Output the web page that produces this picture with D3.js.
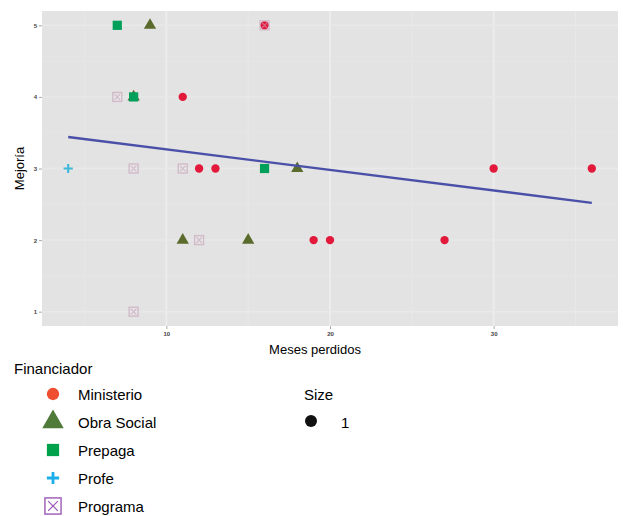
<!DOCTYPE html>
<html>
<head>
<meta charset="utf-8">
<script src="https://cdn.jsdelivr.net/npm/d3@7"></script>
<style>
  body { margin: 0; background: #fff; }
  text { font-family: "Liberation Sans", Arial, sans-serif; }
</style>
</head>
<body>
<svg id="chart" width="623" height="516"></svg>
<script>
const financiadores = ['Ministerio', 'Obra Social', 'Prepaga', 'Profe', 'Programa'];
const legendColors = ['#f04e30', '#4f7a3a', '#00a14b', '#1aaeea', '#9b59b6'];
const plotColors = ['#e3193c', '#5b6b2c', '#00a05a', '#3fb8d8', '#c9a0b8'];

// one entry per point
const meses   = [16, 11, 12, 13, 30, 36, 19, 20, 27, 9, 18, 11, 15, 8, 7, 8, 16, 4, 7, 8, 11, 12, 8, 16];
const mejoria = [5, 4, 3, 3, 3, 3, 2, 2, 2, 5, 3, 2, 2, 4, 5, 4, 3, 3, 4, 3, 3, 2, 1, 5];
const fuente  = ['Ministerio', 'Ministerio', 'Ministerio', 'Ministerio', 'Ministerio', 'Ministerio',
  'Ministerio', 'Ministerio', 'Ministerio', 'Obra Social', 'Obra Social', 'Obra Social', 'Obra Social',
  'Obra Social', 'Prepaga', 'Prepaga', 'Prepaga', 'Profe', 'Programa', 'Programa', 'Programa',
  'Programa', 'Programa', 'Programa'];

const trendX = [4, 36];
const trendY = [3.44, 2.52];

const xTicks = [10, 20, 30];
const yTicks = [1, 2, 3, 4, 5];

const svg = d3.select('#chart');
const panel = { left: 42, right: 618, top: 11, bottom: 326 };

const x = d3.scaleLinear().domain([2.4, 37.6]).range([panel.left, panel.right]);
const y = d3.scaleLinear().domain([0.8, 5.2]).range([panel.bottom, panel.top]);
const color = d3.scaleOrdinal().domain(financiadores).range(plotColors);
const legendColor = d3.scaleOrdinal().domain(financiadores).range(legendColors);

// backdrop
svg.append('rect')
  .attr('x', panel.left)
  .attr('y', panel.top)
  .attr('width', panel.right - panel.left)
  .attr('height', panel.bottom - panel.top)
  .attr('fill', '#e3e3e3');

// grid, kept faint like the scanned original
const grid = svg.append('g');
const minorX = [5, 15, 25, 35];
const minorY = [1.5, 2.5, 3.5, 4.5];
grid.selectAll('.mx').data(minorX).enter().append('line')
  .attr('x1', d => x(d)).attr('x2', d => x(d))
  .attr('y1', panel.top).attr('y2', panel.bottom)
  .attr('stroke', '#e8e8e8').attr('stroke-width', 1);
grid.selectAll('.my').data(minorY).enter().append('line')
  .attr('y1', d => y(d)).attr('y2', d => y(d))
  .attr('x1', panel.left).attr('x2', panel.right)
  .attr('stroke', '#e6e6e6').attr('stroke-width', 1);
grid.selectAll('.gx').data(xTicks).enter().append('line')
  .attr('x1', d => x(d)).attr('x2', d => x(d))
  .attr('y1', panel.top).attr('y2', panel.bottom)
  .attr('stroke', '#ececec').attr('stroke-width', 2);
grid.selectAll('.gy').data(yTicks).enter().append('line')
  .attr('y1', d => y(d)).attr('y2', d => y(d))
  .attr('x1', panel.left).attr('x2', panel.right)
  .attr('stroke', '#e9e9e9').attr('stroke-width', 1.5);

// axes
const xAxis = d3.axisBottom(x).tickValues(xTicks).tickFormat(d3.format('d')).tickSize(3).tickPadding(3);
const xAxisEl = svg.append('g')
  .attr('transform', `translate(0,${panel.bottom})`)
  .call(xAxis);
xAxisEl.select('.domain').remove();
xAxisEl.selectAll('line').attr('stroke', '#aaa');
xAxisEl.selectAll('text').style('font-size', '6px').style('fill', '#444').style('font-weight', 'bold');

const yAxis = d3.axisLeft(y).tickValues(yTicks).tickFormat(d3.format('d')).tickSize(3).tickPadding(2);
const yAxisEl = svg.append('g')
  .attr('transform', `translate(${panel.left},0)`)
  .call(yAxis);
yAxisEl.select('.domain').remove();
yAxisEl.selectAll('line').attr('stroke', '#aaa');
yAxisEl.selectAll('text').style('font-size', '6px').style('fill', '#444').style('font-weight', 'bold');

svg.append('text')
  .attr('x', (panel.left + panel.right) / 2 - 15)
  .attr('y', 354)
  .attr('text-anchor', 'middle')
  .style('font-size', '13px')
  .text('Meses perdidos');

svg.append('text')
  .attr('transform', `translate(24,${(panel.top + panel.bottom) / 2}) rotate(-90)`)
  .attr('text-anchor', 'middle')
  .style('font-size', '13px')
  .text('Mejoría');

// shapes
const shapeOf = {
  'Ministerio': d3.symbolCircle,
  'Obra Social': d3.symbolTriangle,
  'Prepaga': d3.symbolSquare,
  'Profe': d3.symbolCross,
  'Programa': d3.symbolSquare,
};

function drawMark(g, name, size, fill) {
  if (name === 'Programa') {
    const h = Math.sqrt(size) / 2;
    g.append('rect')
      .attr('x', -h).attr('y', -h).attr('width', 2 * h).attr('height', 2 * h)
      .attr('fill', 'none').attr('stroke', fill).attr('stroke-width', 1.4);
    g.append('path')
      .attr('d', `M${-h * 0.6},${-h * 0.6}L${h * 0.6},${h * 0.6}M${h * 0.6},${-h * 0.6}L${-h * 0.6},${h * 0.6}`)
      .attr('stroke', fill).attr('stroke-width', 1.2);
  } else if (name === 'Profe') {
    const h = Math.sqrt(size) / 2;
    g.append('path')
      .attr('d', `M${-h},0H${h}M0,${-h}V${h}`)
      .attr('stroke', fill).attr('stroke-width', Math.max(1.5, h / 2.2));
  } else {
    g.append('path')
      .attr('d', d3.symbol().type(shapeOf[name]).size(size)())
      .attr('fill', fill);
  }
}

const pts = meses.map((m, i) => ({ x: m, y: mejoria[i], f: fuente[i] }));
const order = ['Obra Social', 'Ministerio', 'Prepaga', 'Profe', 'Programa'];
pts.sort((a, b) => order.indexOf(a.f) - order.indexOf(b.f));

const marks = svg.append('g').selectAll('g')
  .data(pts)
  .enter()
  .append('g')
  .attr('transform', d => `translate(${x(d.x)},${y(d.y)})`)
  .attr('opacity', d => d.f === 'Programa' ? 0.6 : 1);
marks.each(function (d) {
  const size = d.f === 'Obra Social' ? 65 : d.f === 'Ministerio' ? 55 : d.f === 'Programa' ? 80 : 85;
  drawMark(d3.select(this), d.f, size, color(d.f));
});

// trend line
svg.append('line')
  .attr('x1', x(trendX[0])).attr('y1', y(trendY[0]))
  .attr('x2', x(trendX[1])).attr('y2', y(trendY[1]))
  .attr('stroke', '#4a4fa8')
  .attr('stroke-width', 2.4);

// legend
const legend = svg.append('g');
legend.append('text')
  .attr('x', 14).attr('y', 374)
  .style('font-size', '15px')
  .text('Financiador');

financiadores.forEach((name, i) => {
  const row = legend.append('g').attr('transform', `translate(53,${394 + i * 28})`);
  const size = name === 'Obra Social' ? 200 : name === 'Ministerio' ? 120 : name === 'Programa' ? 260 : 150;
  drawMark(row, name, size, legendColor(name));
  legend.append('text')
    .attr('x', 78).attr('y', 394 + i * 28 + 6)
    .style('font-size', '15px')
    .text(name);
});

legend.append('text')
  .attr('x', 304).attr('y', 400)
  .style('font-size', '15px')
  .text('Size');
legend.append('circle')
  .attr('cx', 311).attr('cy', 421)
  .attr('r', 6)
  .attr('fill', '#111');
legend.append('text')
  .attr('x', 341).attr('y', 428)
  .style('font-size', '15px')
  .text('1');
</script>
</body>
</html>
